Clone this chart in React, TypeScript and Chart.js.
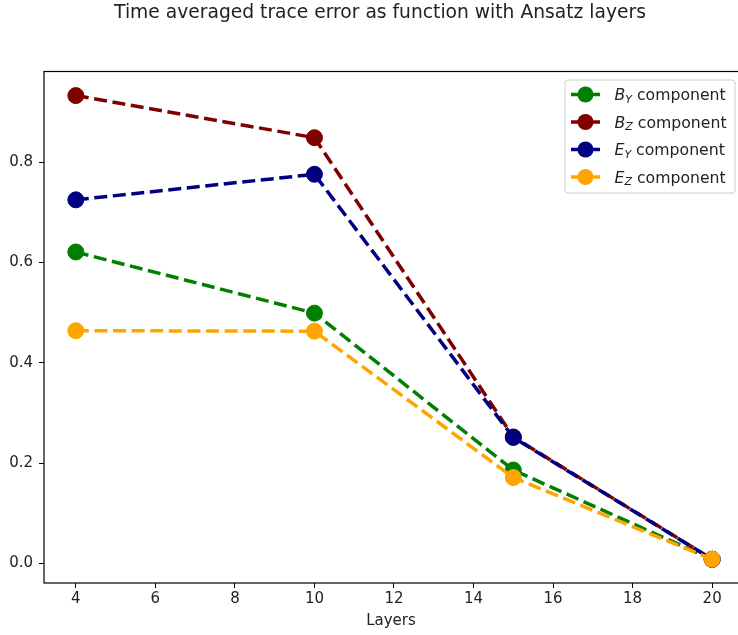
import React, { useEffect, useRef } from "react";
import { Chart, registerables } from "chart.js";

Chart.register(...registerables);

const layers = [4, 10, 15, 20];
const byValues = [0.621, 0.499, 0.186, 0.008];
const bzValues = [0.933, 0.849, 0.252, 0.008];
const eyValues = [0.725, 0.776, 0.251, 0.008];
const ezValues = [0.464, 0.463, 0.171, 0.008];

const xTicks = [4, 6, 8, 10, 12, 14, 16, 18, 20];
const yTicks = [0.0, 0.2, 0.4, 0.6, 0.8];

const titleText = "Time averaged trace error as function with Ansatz layers";
const xTitle = "Layers";

const seriesLetters = ["B", "B", "E", "E"];
const seriesSubs = ["Y", "Z", "Y", "Z"];
const seriesColors = ["#008000", "#800000", "#000080", "#FFA500"];
const seriesValues = [byValues, bzValues, eyValues, ezValues];
const legendSuffix = " component";

const FONT = '"DejaVu Sans", sans-serif';

const framePlugin = {
  id: "frame",
  afterDatasetsDraw(chart: any) {
    const { ctx, chartArea } = chart;
    ctx.save();
    ctx.strokeStyle = "#000";
    ctx.lineWidth = 1.2;
    ctx.strokeRect(chartArea.left, chartArea.top, chart.width + 10 - chartArea.left, chartArea.bottom - chartArea.top);
    ctx.restore();
  },
};

const titlePlugin = {
  id: "mplTitle",
  afterDraw(chart: any) {
    const { ctx } = chart;
    ctx.save();
    ctx.font = `18.7px ${FONT}`;
    ctx.fillStyle = "#222";
    ctx.textAlign = "center";
    ctx.textBaseline = "middle";
    ctx.fillText(titleText, 380, 13);
    ctx.restore();
  },
};

const legendPlugin = {
  id: "mplLegend",
  afterDraw(chart: any) {
    const { ctx } = chart;
    const bx = 565, by = 80, bw = 170, bh = 113, r = 3;
    ctx.save();
    ctx.beginPath();
    ctx.moveTo(bx + r, by);
    ctx.lineTo(bx + bw - r, by);
    ctx.quadraticCurveTo(bx + bw, by, bx + bw, by + r);
    ctx.lineTo(bx + bw, by + bh - r);
    ctx.quadraticCurveTo(bx + bw, by + bh, bx + bw - r, by + bh);
    ctx.lineTo(bx + r, by + bh);
    ctx.quadraticCurveTo(bx, by + bh, bx, by + bh - r);
    ctx.lineTo(bx, by + r);
    ctx.quadraticCurveTo(bx, by, bx + r, by);
    ctx.closePath();
    ctx.fillStyle = "rgba(255,255,255,0.8)";
    ctx.fill();
    ctx.strokeStyle = "#cccccc";
    ctx.lineWidth = 1;
    ctx.stroke();

    const rowY = [94.5, 122, 149.5, 177];
    for (let i = 0; i < seriesLetters.length; i++) {
      const y = rowY[i];
      const col = seriesColors[i];
      ctx.strokeStyle = col;
      ctx.lineWidth = 3.5;
      ctx.setLineDash([13, 5.6]);
      ctx.beginPath();
      ctx.moveTo(571, y);
      ctx.lineTo(600, y);
      ctx.stroke();
      ctx.setLineDash([]);
      ctx.beginPath();
      ctx.arc(585.5, y, 8, 0, Math.PI * 2);
      ctx.fillStyle = col;
      ctx.fill();

      ctx.fillStyle = "#222";
      ctx.textAlign = "left";
      ctx.textBaseline = "alphabetic";
      let x = 614.5;
      const base = y + 5.5;
      ctx.font = `italic 15.7px ${FONT}`;
      ctx.fillText(seriesLetters[i], x, base);
      x += ctx.measureText(seriesLetters[i]).width;
      ctx.font = `italic 11px ${FONT}`;
      ctx.fillText(seriesSubs[i], x, base + 2.5);
      x += ctx.measureText(seriesSubs[i]).width;
      ctx.font = `15.7px ${FONT}`;
      ctx.fillText(legendSuffix, x, base);
    }
    ctx.restore();
  },
};

export default function App() {
  const ref = useRef<HTMLCanvasElement | null>(null);

  useEffect(() => {
    if (!ref.current) return;
    const datasets = seriesValues.map((vals, i) => ({
      label: seriesLetters[i] + seriesSubs[i] + legendSuffix,
      data: layers.map((x, j) => ({ x, y: vals[j] })),
      borderColor: seriesColors[i],
      backgroundColor: seriesColors[i],
      pointBackgroundColor: seriesColors[i],
      pointBorderColor: seriesColors[i],
      pointRadius: 8,
      pointBorderWidth: 1,
      borderWidth: 3.5,
      borderDash: [13, 5.6],
      tension: 0,
      fill: false,
      clip: false,
      order: seriesValues.length - i,
    }));

    const chart = new Chart(ref.current, {
      type: "line",
      data: { datasets },
      plugins: [framePlugin, titlePlugin, legendPlugin],
      options: {
        animation: false,
        responsive: false,
        maintainAspectRatio: false,
        events: [],
        layout: { autoPadding: false, padding: { top: 71.5, left: 0, right: 0, bottom: 0 } },
        plugins: {
          legend: { display: false },
          title: { display: false },
          tooltip: { enabled: false },
        },
        scales: {
          x: {
            type: "linear",
            min: 3.2,
            max: 20.65,
            afterFit: (s: any) => {
              s.height = 52;
              s.paddingLeft = 0;
              s.paddingRight = 0;
            },
            afterBuildTicks: (s: any) => { s.ticks = xTicks.map((v) => ({ value: v })); },
            grid: { drawOnChartArea: false, drawTicks: true, tickLength: 5, color: "#000", lineWidth: 1 },
            border: { display: false },
            ticks: {
              font: { family: FONT, size: 15 },
              color: "#222",
              padding: 2,
              maxRotation: 0,
              autoSkip: false,
              callback: (v: any) => String(v),
            },
            title: {
              display: true,
              text: xTitle,
              font: { family: FONT, size: 15 },
              color: "#222",
              padding: { top: 0, bottom: 5 },
            },
          },
          y: {
            type: "linear",
            min: -0.0393,
            max: 0.981,
            afterFit: (s: any) => {
              s.width = 44;
              s.paddingTop = 0;
              s.paddingBottom = 0;
            },
            afterBuildTicks: (s: any) => { s.ticks = yTicks.map((v) => ({ value: v })); },
            grid: { drawOnChartArea: false, drawTicks: true, tickLength: 5, color: "#000", lineWidth: 1 },
            border: { display: false },
            ticks: {
              font: { family: FONT, size: 15 },
              color: "#222",
              padding: 6,
              autoSkip: false,
              callback: (v: any) => Number(v).toFixed(1),
            },
          },
        },
      },
    });
    return () => chart.destroy();
  }, []);

  return (
    <div style={{ position: "fixed", left: 0, top: 0, width: 738, height: 635, background: "#fff" }}>
      <canvas ref={ref} width={738} height={635} style={{ display: "block", width: 738, height: 635 }} />
    </div>
  );
}
